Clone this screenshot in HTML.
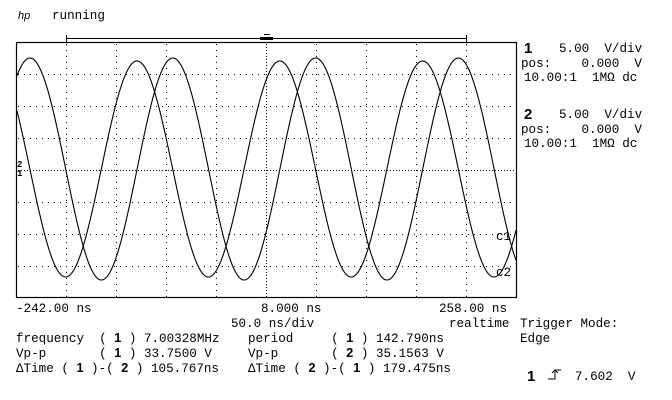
<!DOCTYPE html>
<html><head><meta charset="utf-8"><style>
html,body{margin:0;padding:0;background:#fff}
svg{display:block}
text{font-family:"Liberation Mono",monospace;font-size:12.6px;fill:#000;white-space:pre}
.b{font-family:"Liberation Sans",sans-serif;font-weight:bold;font-size:15px}
.bs{font-family:"Liberation Sans",sans-serif;font-weight:bold;font-size:12.6px}
</style></head><body>
<svg width="672" height="400" viewBox="0 0 672 400" xmlns="http://www.w3.org/2000/svg" xml:space="preserve">
<rect width="672" height="400" fill="#fff"/>
<text x="18" y="19" font-style="italic" style="font-family:'Liberation Sans',sans-serif;font-size:11px">hp</text>
<text x="52" y="19">running</text>
<line x1="66" y1="38.5" x2="466" y2="38.5" stroke="#000"/>
<line x1="66.5" y1="35" x2="66.5" y2="42" stroke="#000"/>
<line x1="466.5" y1="35" x2="466.5" y2="42" stroke="#000"/>
<rect x="260" y="37" width="13" height="3" fill="#000"/>
<line x1="264" y1="34.5" x2="270" y2="34.5" stroke="#000"/>
<g stroke="#000" stroke-width="1" stroke-dasharray="1,5">
<line x1="66.5" y1="44" x2="66.5" y2="297"/><line x1="116.5" y1="44" x2="116.5" y2="297"/>
<line x1="166.5" y1="44" x2="166.5" y2="297"/><line x1="216.5" y1="44" x2="216.5" y2="297"/>
<line x1="316.5" y1="44" x2="316.5" y2="297"/><line x1="366.5" y1="44" x2="366.5" y2="297"/>
<line x1="416.5" y1="44" x2="416.5" y2="297"/><line x1="466.5" y1="44" x2="466.5" y2="297"/>
<line x1="18" y1="74.5" x2="516" y2="74.5"/><line x1="18" y1="106.5" x2="516" y2="106.5"/>
<line x1="18" y1="138.5" x2="516" y2="138.5"/><line x1="18" y1="202.5" x2="516" y2="202.5"/>
<line x1="18" y1="234.5" x2="516" y2="234.5"/><line x1="18" y1="266.5" x2="516" y2="266.5"/>
</g>
<g stroke="#000" stroke-width="1" stroke-dasharray="1,2">
<line x1="266.5" y1="44" x2="266.5" y2="297"/>
<line x1="18" y1="170.5" x2="516" y2="170.5"/>
</g>
<rect x="16.5" y="42.5" width="500" height="255" fill="none" stroke="#000" stroke-width="1.2"/>
<path id="p" fill="none" stroke="#000" stroke-width="1.1" d=""/>
<path id="q" fill="none" stroke="#000" stroke-width="1.1" d=""/>
<text x="17" y="167" style="font-size:9px;font-weight:bold">2</text>
<text x="17" y="176" style="font-size:9px;font-weight:bold">1</text>
<text x="496" y="240">c1</text>
<text x="496" y="276">c2</text>
<text x="524" y="53" class="b">1</text>
<text x="559" y="52">5.00  V/div</text>
<text x="521" y="67">pos:    0.000  V</text>
<text x="524" y="81">10.00:1  1MΩ dc</text>
<text x="524" y="119" class="b">2</text>
<text x="559" y="118">5.00  V/div</text>
<text x="521" y="133">pos:    0.000  V</text>
<text x="524" y="147">10.00:1  1MΩ dc</text>
<text x="16" y="312">-242.00 ns</text>
<text x="261" y="312">8.000 ns</text>
<text x="439" y="312">258.00 ns</text>
<text x="231" y="327">50.0 ns/div</text>
<text x="449" y="327">realtime</text>
<text x="520" y="327">Trigger Mode:</text>
<text x="520" y="342">Edge</text>
<text x="16" y="342">frequency  ( <tspan class="bs">1</tspan> ) 7.00328MHz</text>
<text x="248" y="342">period     ( <tspan class="bs">1</tspan> ) 142.790ns</text>
<text x="16" y="357">Vp-p       ( <tspan class="bs">1</tspan> ) 33.7500 V</text>
<text x="248" y="357">Vp-p       ( <tspan class="bs">2</tspan> ) 35.1563 V</text>
<text x="16" y="372">ΔTime ( <tspan class="bs">1</tspan> )-( <tspan class="bs">2</tspan> ) 105.767ns</text>
<text x="248" y="372">ΔTime ( <tspan class="bs">2</tspan> )-( <tspan class="bs">1</tspan> ) 179.475ns</text>
<text x="527" y="381" class="b">1</text>
<path d="M548 379 H555 V370 H561 M555 370 l-3 3 M555 370 l3 3" fill="none" stroke="#000"/>
<text x="575" y="380">7.602  V</text>
</svg>
<script>
function mk(id,peak,amp){var d="",T=142.8;for(var x=17;x<=516;x+=0.5){var y=169-amp*Math.cos(2*Math.PI*(x-peak)/T);d+=(x==17?"M":"L")+x+" "+y.toFixed(2)+" ";}document.getElementById(id).setAttribute("d",d);}
mk("p",30,111);mk("q",137,108);
</script>
</body></html>
